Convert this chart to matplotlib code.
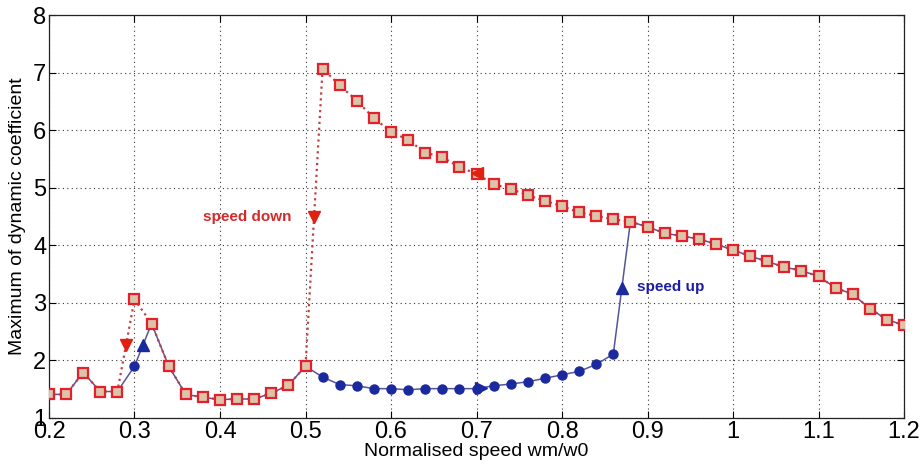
import matplotlib
matplotlib.use("Agg")
import matplotlib.pyplot as plt
from matplotlib import font_manager

# ---- data ----
x_low = [0.20, 0.22, 0.24, 0.26, 0.28, 0.30, 0.32, 0.34, 0.36, 0.38,
         0.40, 0.42, 0.44, 0.46, 0.48, 0.50]
y_low_down = [1.41, 1.41, 1.79, 1.46, 1.46, 3.06, 2.64, 1.90, 1.41, 1.36,
              1.32, 1.33, 1.33, 1.43, 1.57, 1.90]
x_jump_up = [0.30]
y_jump_up = [1.90]

x_mid = [0.52, 0.54, 0.56, 0.58, 0.60, 0.62, 0.64, 0.66, 0.68, 0.70,
         0.72, 0.74, 0.76, 0.78, 0.80, 0.82, 0.84, 0.86]
y_mid_up = [1.71, 1.58, 1.56, 1.51, 1.51, 1.49, 1.51, 1.51, 1.51, 1.51,
            1.56, 1.59, 1.63, 1.69, 1.75, 1.81, 1.93, 2.11]
y_mid_down = [7.07, 6.78, 6.51, 6.21, 5.97, 5.83, 5.61, 5.53, 5.36, 5.24,
              5.06, 4.98, 4.87, 4.77, 4.68, 4.57, 4.51, 4.45]

x_high = [0.88, 0.90, 0.92, 0.94, 0.96, 0.98, 1.00, 1.02, 1.04, 1.06,
          1.08, 1.10, 1.12, 1.14, 1.16, 1.18, 1.20]
y_high = [4.41, 4.32, 4.21, 4.16, 4.11, 4.02, 3.92, 3.81, 3.72, 3.62,
          3.56, 3.46, 3.26, 3.15, 2.90, 2.71, 2.61]

x_ticks = [0.2, 0.3, 0.4, 0.5, 0.6, 0.7, 0.8, 0.9, 1, 1.1, 1.2]
x_ticklabels = ["0.2", "0.3", "0.4", "0.5", "0.6", "0.7", "0.8", "0.9", "1", "1.1", "1.2"]
y_ticks = [1, 2, 3, 4, 5, 6, 7, 8]
y_ticklabels = ["1", "2", "3", "4", "5", "6", "7", "8"]

# ---- fonts ----
names = {f.name for f in font_manager.fontManager.ttflist}
narrow = "Liberation Sans Narrow" if "Liberation Sans Narrow" in names else "Liberation Sans"
plt.rcParams['font.family'] = [narrow, 'DejaVu Sans']

fig = plt.figure(figsize=(9.21, 4.66), dpi=100)
ax = fig.add_axes([49/921, 48/466, (904-49)/921, (418-15)/466])

RED_EDGE = "#e3202b"
RED_FACE = "#dcc4a8"
BLUE = "#1a2a9e"
BLUE_LINE = "#55559a"
RED_LINE = "#c04040"

# speed-up path (blue solid line)
up_x = x_low[:5] + x_jump_up + x_low[6:] + x_mid + x_high
up_y = y_low_down[:5] + y_jump_up + y_low_down[6:] + y_mid_up + y_high
ax.plot(up_x, up_y, '-', color=BLUE_LINE, lw=1.1, zorder=2)

# speed-down path (red dotted line)
dn_x = x_high[::-1] + x_mid[::-1] + x_low[::-1]
dn_y = y_high[::-1] + y_mid_down[::-1] + y_low_down[::-1]
ax.plot(dn_x, dn_y, ':', color=RED_LINE, lw=1.6, zorder=2)

# markers
ax.plot(x_low + x_mid + x_high, y_low_down + y_mid_down + y_high, 's',
        ms=7.5, mfc=RED_FACE, mec=RED_EDGE, mew=1.6, zorder=4)
ax.plot(x_jump_up + x_mid, y_jump_up + y_mid_up, 'o', ms=6.5,
        color=BLUE, zorder=4)

# direction arrows (midpoints of jump segments)
def mid(a, b):
    return (a + b) / 2

ax.plot(mid(x_mid[0], x_low[-1]), mid(y_mid_down[0], y_low_down[-1]), 'v',
        ms=9, color="#e02010", zorder=5)
ax.plot(mid(x_low[5], x_low[4]), mid(y_low_down[5], y_low_down[4]), 'v',
        ms=9, color="#e02010", zorder=5)
ax.plot(mid(x_jump_up[0], x_low[6]), mid(y_jump_up[0], y_low_down[6]), '^',
        ms=9, color=BLUE, zorder=5)
ax.plot(mid(x_mid[-1], x_high[0]), mid(y_mid_up[-1], y_high[0]), '^',
        ms=9, color=BLUE, zorder=5)
ax.plot(x_mid[9] + 0.005, y_mid_up[9] + 0.01, '>', ms=9, color=BLUE, zorder=5)
ax.plot(x_mid[9], y_mid_down[9] + 0.02, '<', ms=9, color="#e02010", zorder=5)

ax.text(0.484, 4.49, "speed down", color="#d42a2a", fontsize=11,
        fontweight='bold', family=['Liberation Sans', 'DejaVu Sans'],
        ha='right', va='center')
ax.text(0.8875, 3.27, "speed up", color="#1c1ca8", fontsize=11,
        fontweight='bold', family=['Liberation Sans', 'DejaVu Sans'],
        ha='left', va='center')

ax.set_xlim(0.2, 1.2)
ax.set_ylim(1, 8)
ax.set_xticks(x_ticks)
ax.set_xticklabels(x_ticklabels)
ax.set_yticks(y_ticks)
ax.set_yticklabels(y_ticklabels)
ax.tick_params(direction='in', length=5, width=0.8, labelsize=17,
               top=True, right=True, pad=2)
ax.grid(True, linestyle=(0, (1, 3)), color='#333333', lw=0.8)
for s in ax.spines.values():
    s.set_linewidth(0.9)
    s.set_color('#222222')

ax.set_xlabel("Normalised speed wm/w0", fontsize=14, labelpad=0)
ax.set_ylabel("Maximum of dynamic coefficient", fontsize=14,
              family=['Liberation Sans', 'DejaVu Sans'], labelpad=5)

fig.savefig("out.png", dpi=100)
